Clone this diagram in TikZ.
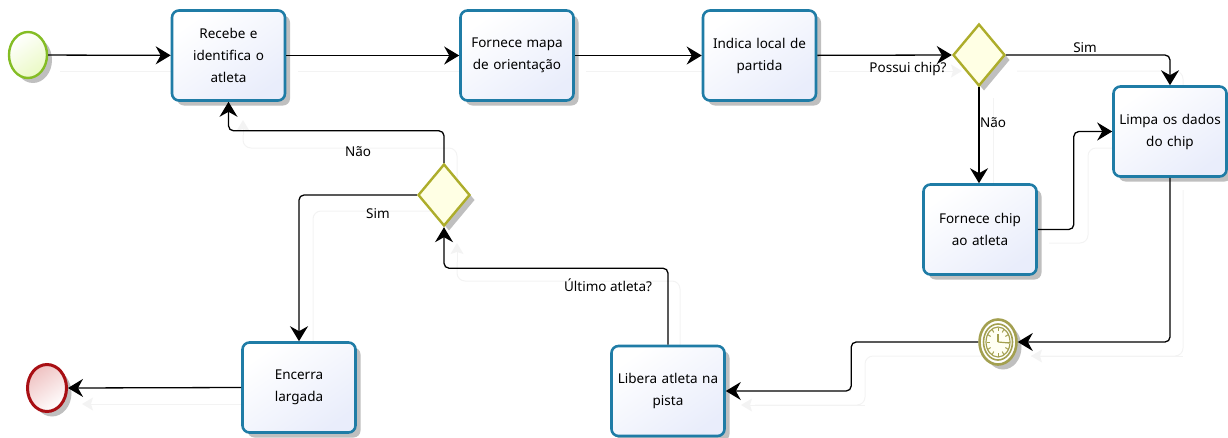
\documentclass[tikz,border=0pt]{standalone}
\usepackage{fontspec}
\setmainfont{Noto Sans}
\usetikzlibrary{arrows.meta,calc,shadows,shapes.geometric}
\definecolor{taskblue}{HTML}{1F7CA6}
\definecolor{taskfill}{HTML}{E9EDFB}
\definecolor{gategold}{HTML}{ADAD2B}
\definecolor{gatefill}{HTML}{FFFFE4}
\definecolor{startgreen}{HTML}{84BD24}
\definecolor{startfill}{HTML}{EAF9C4}
\definecolor{endred}{HTML}{A80F14}
\definecolor{endfill}{HTML}{EFC2C2}
\definecolor{clockgold}{HTML}{A3A050}
\definecolor{clockface}{HTML}{FFFFF2}
\definecolor{ghostgray}{HTML}{F3F3F3}
\tikzset{
  softshadow/.style={drop shadow={shadow xshift=5pt,shadow yshift=-5pt,opacity=0.25,fill=black}},
  task/.style={draw=taskblue,line width=2.6pt,rounded corners=7pt,minimum width=113pt,minimum height=90pt,
    softshadow,top color=white,bottom color=taskfill,shading angle=35,align=center,text width=105pt,font=\fontsize{13.5}{22}\selectfont},
  gate/.style={diamond,draw=gategold,line width=2.4pt,aspect=0.84,inner sep=0pt,minimum width=52pt,minimum height=62pt,
    fill=gatefill,softshadow},
  startev/.style={ellipse,draw=startgreen,line width=2.4pt,inner sep=0pt,minimum width=38pt,minimum height=46pt,
    softshadow,top color=white,bottom color=startfill,shading angle=35},
  endev/.style={ellipse,draw=endred,line width=3pt,inner sep=0pt,minimum width=39pt,minimum height=47pt,
    softshadow,top color=endfill,bottom color=white,shading angle=35},
  clockev/.style={ellipse,draw=clockgold,line width=2.6pt,inner sep=0pt,minimum width=37pt,minimum height=45pt,
    fill=white,softshadow},
  flow/.style={-{Stealth[length=15pt,width=18pt,inset=5pt]},line width=1.3pt,black,rounded corners=5pt},
  ghostline/.style={line width=1pt,ghostgray,rounded corners=8pt},
  ghosttip/.style={ghostline,-{Stealth[length=11pt,width=13pt,inset=2pt]}},
  flowlabel/.style={font=\fontsize{13.5}{16}\selectfont,inner sep=0pt},
}
\begin{document}
\begin{tikzpicture}[x=1pt,y=-1pt]
  \useasboundingbox (0,0) rectangle (1228,437);
  % faded copies of the flows
  \draw[ghostline](60,71)--(185,71);
  \draw[ghostline](298,71)--(474,71);
  \draw[ghostline](586,71)--(716,71);
  \draw[ghosttip](829,71)--(962,71);
  \draw[ghostline](1017,71)--(1183,71)--(1183,100);
  \draw[ghostline](993,98)--(993,198);
  \draw[ghostline](1049,243)--(1088,243)--(1088,148)--(1128,148);
  \draw[ghostline](1183,190)--(1183,356)--(1031,356);
  \draw[ghosttip](1183,356)--(1031,356);
  \draw[ghostline](992,356)--(865,356)--(865,405)--(755,405);
  \draw[ghosttip](865,405)--(741,405);
  \draw[ghostline](680,346)--(680,281)--(457,281)--(457,262);
  \draw[ghosttip](457,262)--(457,243);
  \draw[ghostline](457,178)--(457,148)--(243,148)--(243,135);
  \draw[ghosttip](243,135)--(243,120);
  \draw[ghostline](430,211)--(313,211)--(313,356);
  \draw[ghostline](242,404)--(96,404);
  \draw[ghosttip](96,404)--(82,404);
  % nodes
  \node[startev](start) at (28,55){};
  \node[task](recebe) at (228.5,55.5){Recebe e\\identifica o\\atleta};
  \node[task](mapa) at (517,55.5){Fornece mapa\\de orientação};
  \node[task](partida) at (759.5,55.5){Indica local de\\partida};
  \node[gate](gatechip) at (979,55){};
  \node[task](limpa) at (1170,131.5){Limpa os dados\\do chip};
  \node[task](fornece) at (980,229.5){Fornece chip\\ao atleta};
  \node[clockev](clock) at (998,342){};
  \node[task](libera) at (668,391){Libera atleta na\\pista};
  \node[gate](gatelast) at (444,195){};
  \node[task](encerra) at (299,387.5){Encerra\\largada};
  \node[endev](fim) at (47,388){};
  % clock face
  \draw[clockgold,line width=1.6pt](clock.center) ellipse (14.5pt and 18pt);
  \draw[clockgold,line width=1.2pt,fill=clockface](clock.center) ellipse (12pt and 15pt);
  \foreach \a in {0,30,...,330}
    \draw[clockgold,line width=1pt]($(clock.center)+({\a}:8.5pt and 11pt)$)--($(clock.center)+({\a}:11.5pt and 14.5pt)$);
  \draw[clockgold,line width=1.2pt](clock.center)--++(0,-8);
  \draw[clockgold,line width=1.2pt](clock.center)--++(11,1);
  % flows
  \draw[flow](start)--(recebe);
  \draw[flow](recebe)--(mapa);
  \draw[flow](mapa)--(partida);
  \draw[flow](partida)--(gatechip.west);
  \draw[flow](gatechip.east)-|(limpa.north);
  \draw[flow](gatechip.south)--(gatechip.south|-fornece.north);
  \draw[flow](fornece.east)--++(36,0)|-(limpa.west);
  \draw[flow](limpa.south)|-(clock.east);
  \draw[flow](clock.west)--++(-127,0)|-(libera.east);
  \draw[flow](libera.north)|-($(gatelast.south)+(0,41)$)--(gatelast.south);
  \draw[flow](gatelast.north)--++(0,-32)-|(recebe.south);
  \draw[flow](gatelast.west)-|(encerra.north);
  \draw[flow](encerra.west)--(fim.east);
  % labels
  \node[flowlabel](possui) at (908,69){Possui chip?};
  \node[flowlabel](simchip) at (1085,48){Sim};
  \node[flowlabel](naochip) at (993,123){Não};
  \node[flowlabel](ultimo) at (608,285){Último atleta?};
  \node[flowlabel](naolast) at (358,152){Não};
  \node[flowlabel](simlast) at (378,214){Sim};
\end{tikzpicture}
\end{document}
